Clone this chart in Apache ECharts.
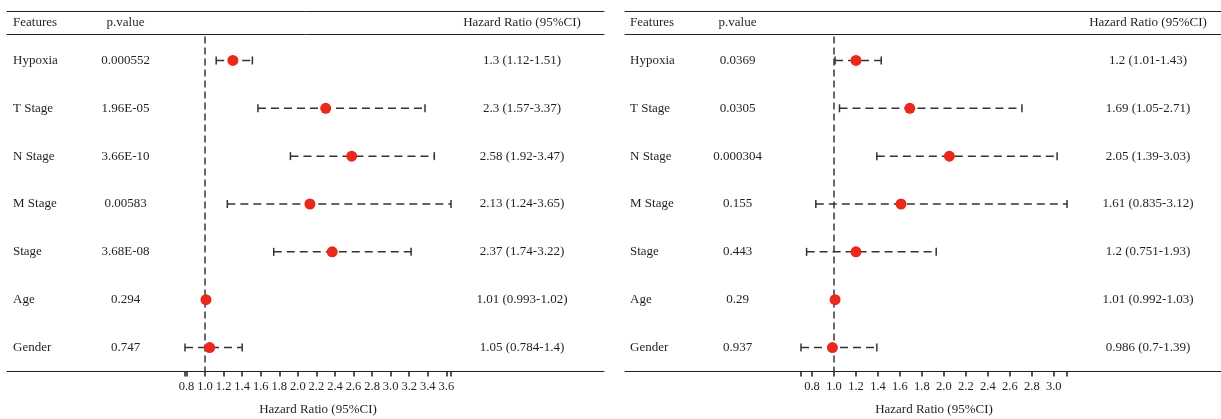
<!DOCTYPE html>
<html><head><meta charset="utf-8">
<script src="https://cdn.jsdelivr.net/npm/echarts@6/dist/echarts.min.js"></script>
<style>html,body{margin:0;padding:0;background:#fff}#c{width:1221px;height:419px}</style>
</head><body><div id="c"></div>
<script>
// ---- data ----
const features = ['Hypoxia', 'T Stage', 'N Stage', 'M Stage', 'Stage', 'Age', 'Gender'];
const headers = ['Features', 'p.value', 'Hazard Ratio (95%CI)'];
const axisTitle = 'Hazard Ratio (95%CI)';

const leftP = ['0.000552', '1.96E-05', '3.66E-10', '0.00583', '3.68E-08', '0.294', '0.747'];
const leftHR = [1.3, 2.3, 2.58, 2.13, 2.37, 1.01, 1.05];
const leftLow = [1.12, 1.57, 1.92, 1.24, 1.74, 0.993, 0.784];
const leftHigh = [1.51, 3.37, 3.47, 3.65, 3.22, 1.02, 1.4];
const leftTicks = [0.8, 1.0, 1.2, 1.4, 1.6, 1.8, 2.0, 2.2, 2.4, 2.6, 2.8, 3.0, 3.2, 3.4, 3.6];

const rightP = ['0.0369', '0.0305', '0.000304', '0.155', '0.443', '0.29', '0.937'];
const rightHR = [1.2, 1.69, 2.05, 1.61, 1.2, 1.01, 0.986];
const rightLow = [1.01, 1.05, 1.39, 0.835, 0.751, 0.992, 0.7];
const rightHigh = [1.43, 2.71, 3.03, 3.12, 1.93, 1.03, 1.39];
const rightTicks = [0.8, 1.0, 1.2, 1.4, 1.6, 1.8, 2.0, 2.2, 2.4, 2.6, 2.8, 3.0];

const refValue = 1;

// ---- styles ----
const FONT = '"Liberation Serif", "Times New Roman", serif';
const INK = '#231f20';
const DOT = '#e8291c';
const WHISK = '#333333';

const option = {
  animation: false,
  backgroundColor: '#fff',
  textStyle: { fontFamily: FONT },
  grid: [], xAxis: [], yAxis: [], series: []
};

function lineAxis(gi, pos) {
  return {
    type: 'value', gridIndex: gi, position: pos, min: 0, max: 1,
    axisLine: { show: true, onZero: false, lineStyle: { color: INK, width: 1 } },
    axisTick: { show: false }, axisLabel: { show: false }, splitLine: { show: false }
  };
}
function colAxis(gi, data, pos, margin, align) {
  return {
    type: 'category', gridIndex: gi, data: data, inverse: true, position: pos,
    axisLine: { show: false }, axisTick: { show: false }, splitLine: { show: false },
    axisLabel: { inside: true, margin: margin, align: align, color: INK, fontSize: 13, fontFamily: FONT, interval: 0 }
  };
}
function makeGrid(left, right, top, height) {
  return { left: left, right: right, top: top, height: height, containLabel: false, outerBoundsMode: 'none' };
}

function addPanel(L, d) {
  const g0 = option.grid.length;
  option.grid.push(makeGrid(L.left, L.right, 11, 23));
  option.grid.push(makeGrid(L.left, L.right, 36.5, 335));
  option.grid.push(makeGrid(L.plotLeft, L.plotRight, 36.5, 335));

  const x0 = option.xAxis.length;
  option.xAxis.push(lineAxis(g0, 'top'), lineAxis(g0, 'bottom'), lineAxis(g0 + 1, 'bottom'));
  const lo = Math.min(...d.low), hi = Math.max(...d.high);
  option.xAxis.push({
    type: 'value', gridIndex: g0 + 2, position: 'bottom', min: lo, max: hi,
    axisLine: { show: true, onZero: false, lineStyle: { color: INK, width: 1 } }, splitLine: { show: false },
    axisTick: { show: true, inside: false, length: 5, lineStyle: { color: INK, width: 1.5 }, customValues: [lo].concat(d.ticks, [hi]) },
    axisLabel: { customValues: d.ticks, formatter: v => v.toFixed(1), color: INK, fontSize: 12.5, fontFamily: FONT, margin: 9 },
    name: axisTitle, nameLocation: 'middle', nameGap: 32,
    nameTextStyle: { color: INK, fontSize: 13, fontFamily: FONT }
  });

  const y0 = option.yAxis.length;
  const hrText = d.hr.map((h, i) => h + ' (' + d.low[i] + '-' + d.high[i] + ')');
  option.yAxis.push(
    colAxis(g0, [headers[0]], 'left', L.fMargin, 'left'),
    colAxis(g0, [headers[1]], 'left', L.pMargin, 'center'),
    colAxis(g0, [headers[2]], 'right', L.hMargin, 'center'),
    colAxis(g0 + 1, features, 'left', L.fMargin, 'left'),
    colAxis(g0 + 1, d.p, 'left', L.pMargin, 'center'),
    colAxis(g0 + 1, hrText, 'right', L.hMargin, 'center'),
    { type: 'category', gridIndex: g0 + 2, data: features, inverse: true,
      axisLine: { show: false }, axisTick: { show: false }, axisLabel: { show: false }, splitLine: { show: false } }
  );

  option.series.push({
    type: 'custom', coordinateSystem: 'cartesian2d', xAxisIndex: x0 + 3, yAxisIndex: y0 + 6, z: 2, silent: true,
    data: d.low.map((l, i) => [l, d.high[i], features[i]]),
    encode: { x: [0, 1], y: 2 },
    renderItem: function (params, api) {
      const yi = api.value(2);
      const p1 = api.coord([api.value(0), yi]);
      const p2 = api.coord([api.value(1), yi]);
      const h = 4;
      const st = { stroke: WHISK, lineWidth: 1.5 };
      return {
        type: 'group', children: [
          { type: 'line', shape: { x1: p1[0], y1: p1[1], x2: p2[0], y2: p2[1] }, style: Object.assign({ lineDash: [8, 5] }, st) },
          { type: 'line', shape: { x1: p1[0], y1: p1[1] - h, x2: p1[0], y2: p1[1] + h }, style: st },
          { type: 'line', shape: { x1: p2[0], y1: p2[1] - h, x2: p2[0], y2: p2[1] + h }, style: st }
        ]
      };
    }
  });
  option.series.push({
    type: 'scatter', xAxisIndex: x0 + 3, yAxisIndex: y0 + 6, z: 5, silent: true,
    symbolSize: 11, itemStyle: { color: DOT, opacity: 1 },
    data: d.hr.map((h, i) => [h, features[i]]),
    markLine: {
      silent: true, symbol: ['none', 'none'], label: { show: false }, z: 1,
      lineStyle: { type: [7, 4], color: '#444', width: 1.6, opacity: 1 },
      data: [{ xAxis: refValue }]
    }
  });
}

addPanel({ left: 7, right: 617, plotLeft: 185, plotRight: 770, fMargin: 6, pMargin: 118.5, hMargin: 82 },
  { p: leftP, hr: leftHR, low: leftLow, high: leftHigh, ticks: leftTicks });
addPanel({ left: 625, right: 0, plotLeft: 801, plotRight: 154, fMargin: 5, pMargin: 112.5, hMargin: 73 },
  { p: rightP, hr: rightHR, low: rightLow, high: rightHigh, ticks: rightTicks });

const chart = echarts.init(document.getElementById('c'), null, { renderer: 'canvas' });
chart.setOption(option);
</script>
</body></html>
